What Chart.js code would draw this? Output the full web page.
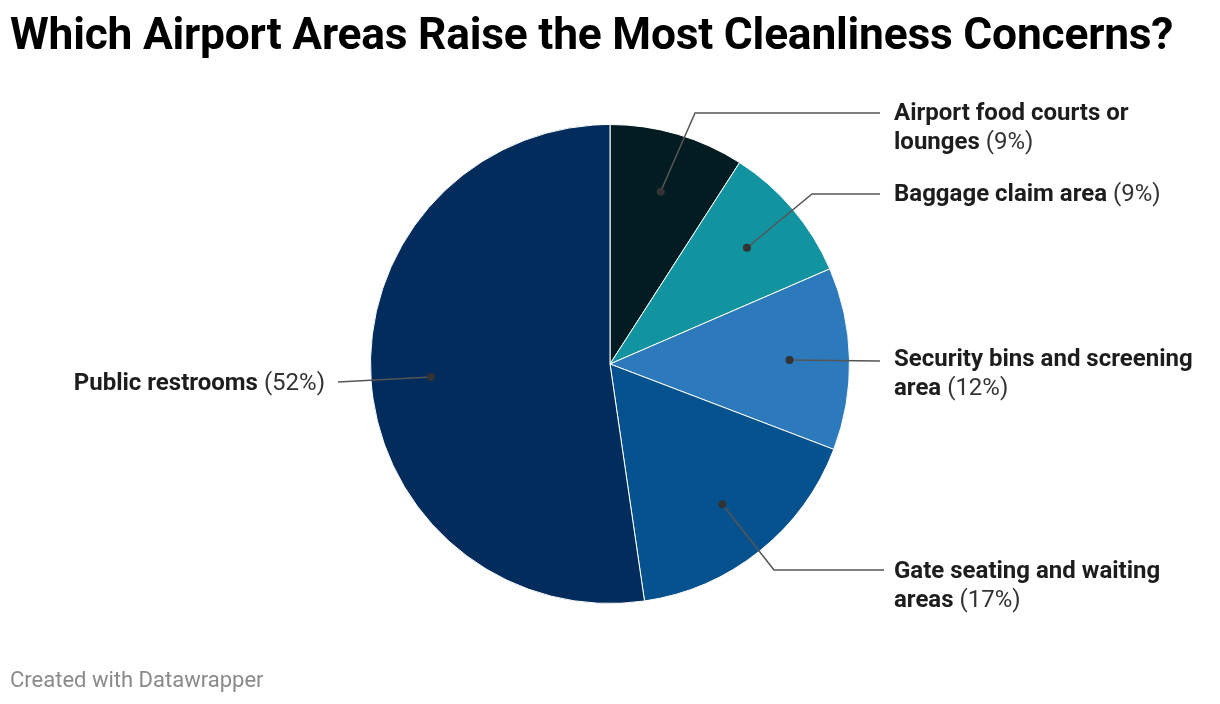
<!DOCTYPE html>
<html>
<head>
<meta charset="utf-8">
<script src="https://cdn.jsdelivr.net/npm/chart.js@4"></script>
<style>
  body { margin: 0; background: #fff; font-family: Roboto, sans-serif; }
  #wrap { position: relative; width: 1220px; height: 704px; }
  canvas { position: absolute; left: 0; top: 0; }
  h1 { position: absolute; left: 10px; top: 8px; margin: 0; font-size: 44.3px; font-weight: 700; color: #000; letter-spacing: -0.2px; }
  .foot { position: absolute; left: 10px; top: 667px; font-size: 22px; color: #8a8a8a; }
</style>
</head>
<body>
<div id="wrap">
  <canvas id="pie" width="1220" height="704"></canvas>
  <h1>Which Airport Areas Raise the Most Cleanliness Concerns?</h1>
  <div class="foot">Created with Datawrapper</div>
</div>
<script>
// data (clockwise from top)
const categories = [
  "Airport food courts or lounges",
  "Baggage claim area",
  "Security bins and screening area",
  "Gate seating and waiting areas",
  "Public restrooms"
];
const shares = [9.1, 9.4, 12.3, 16.9, 52.3];
const sliceColors = ["#021c22", "#1193a0", "#2c7abc", "#06528f", "#022c5b"];

// label layout: wrapped name lines, text position, leader elbow/end
const labelPos = [
  { lines: ["Airport food courts or", "lounges"], x: 894, y: 114, align: "left", elbow: [695, 113], end: [880, 113] },
  { lines: ["Baggage claim area"], x: 894, y: 195, align: "left", elbow: [812, 194], end: [880, 194] },
  { lines: ["Security bins and screening", "area"], x: 894, y: 360, align: "left", elbow: null, end: [880, 361] },
  { lines: ["Gate seating and waiting", "areas"], x: 894, y: 572, align: "left", elbow: [774, 570], end: [884, 570] },
  { lines: ["Public restrooms"], x: 325, y: 384, align: "right", elbow: null, end: [338, 382] }
];

const FONT_PX = 24;

const leaderLabels = {
  id: "leaderLabels",
  afterDatasetsDraw(chart) {
    const ctx = chart.ctx;
    const arcs = chart.getDatasetMeta(0).data;
    ctx.save();
    arcs.forEach((arc, i) => {
      const p = arc.getProps(["x", "y", "startAngle", "endAngle", "outerRadius"], true);
      const mid = (p.startAngle + p.endAngle) / 2;
      const dx = p.x + Math.cos(mid) * p.outerRadius * 0.75;
      const dy = p.y + Math.sin(mid) * p.outerRadius * 0.75;
      const lp = labelPos[i];

      // leader line
      ctx.strokeStyle = "#555";
      ctx.lineWidth = 1.5;
      ctx.beginPath();
      ctx.moveTo(dx, dy);
      if (lp.elbow) ctx.lineTo(lp.elbow[0], lp.elbow[1]);
      ctx.lineTo(lp.end[0], lp.end[1]);
      ctx.stroke();

      ctx.fillStyle = "#333";
      ctx.beginPath();
      ctx.arc(dx, dy, 4, 0, Math.PI * 2);
      ctx.fill();

      // text
      const pct = " (" + Math.round(shares[i]) + "%)";
      ctx.textBaseline = "middle";
      lp.lines.forEach((line, j) => {
        const y = lp.y + j * 29;
        const last = j === lp.lines.length - 1;
        ctx.font = "700 " + FONT_PX + "px Roboto";
        const wB = ctx.measureText(line).width;
        ctx.font = "400 " + FONT_PX + "px Roboto";
        const wR = last ? ctx.measureText(pct).width : 0;
        let x = lp.align === "right" ? lp.x - wB - wR : lp.x;
        ctx.textAlign = "left";
        ctx.font = "700 " + FONT_PX + "px Roboto";
        ctx.fillStyle = "#1d1d1d";
        ctx.fillText(line, x, y);
        if (last) {
          ctx.font = "400 " + FONT_PX + "px Roboto";
          ctx.fillStyle = "#333";
          ctx.fillText(pct, x + wB, y);
        }
      });
    });
    ctx.restore();
  }
};

new Chart(document.getElementById("pie").getContext("2d"), {
  type: "pie",
  data: {
    labels: categories,
    datasets: [
      {
        data: shares,
        backgroundColor: sliceColors,
        borderColor: "#ffffff",
        borderWidth: 1
      }
    ]
  },
  options: {
    responsive: false,
    animation: false,
    layout: { padding: { left: 370, right: 370, top: 124, bottom: 100 } },
    plugins: {
      legend: { display: false },
      tooltip: { enabled: false }
    }
  },
  plugins: [leaderLabels]
});
</script>
</body>
</html>
